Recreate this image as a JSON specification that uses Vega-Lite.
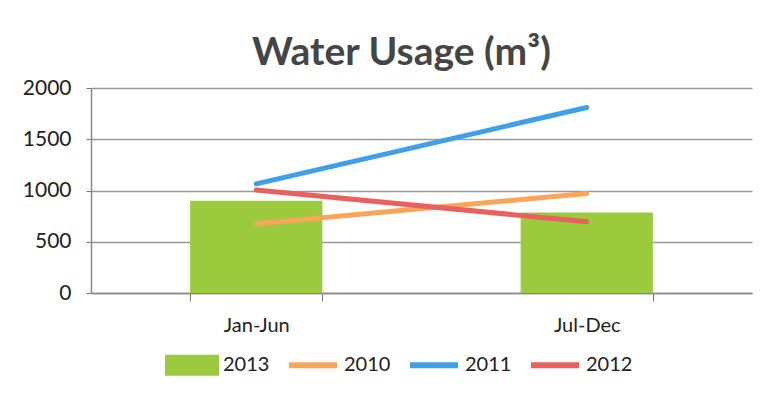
{
  "$schema": "https://vega.github.io/schema/vega-lite/v6.json",
  "autosize": "none",
  "width": 661,
  "height": 205,
  "padding": {"left": 91, "top": 88, "right": 29, "bottom": 114},
  "background": "white",
  "title": {"text": "Water Usage (m³)", "font": "Lato", "fontSize": 39, "fontWeight": "bold", "color": "#454545", "anchor": "middle", "frame": "group", "dx": -20, "offset": 4},
  "data": {"values": [
    {"period": "Jan-Jun", "series": "2013", "kind": "bar", "value": 900},
    {"period": "Jul-Dec", "series": "2013", "kind": "bar", "value": 785},
    {"period": "Jan-Jun", "series": "2010", "kind": "line", "value": 675},
    {"period": "Jul-Dec", "series": "2010", "kind": "line", "value": 970},
    {"period": "Jan-Jun", "series": "2011", "kind": "line", "value": 1065},
    {"period": "Jul-Dec", "series": "2011", "kind": "line", "value": 1810},
    {"period": "Jan-Jun", "series": "2012", "kind": "line", "value": 1005},
    {"period": "Jul-Dec", "series": "2012", "kind": "line", "value": 695}
  ]},
  "encoding": {
    "x": {"field": "period", "type": "nominal", "sort": ["Jan-Jun", "Jul-Dec"],
      "scale": {"paddingInner": 0.6, "paddingOuter": 0.3},
      "axis": {"title": null, "labelAngle": 0, "labelFont": "Lato", "labelFontSize": 20, "labelColor": "#222", "labelPadding": 14, "tickBand": "extent", "tickSize": 8, "tickColor": "#777", "domainColor": "#888", "domainWidth": 1.5, "grid": false}},
    "y": {"field": "value", "type": "quantitative",
      "scale": {"domain": [0, 2000]},
      "axis": {"title": null, "values": [0, 500, 1000, 1500, 2000], "format": "d", "labelFont": "Lato", "labelFontSize": 21, "labelColor": "#222", "labelPadding": 15, "tickSize": 5, "tickColor": "#777", "domainColor": "#888", "domainWidth": 1.5, "gridColor": "#999", "gridWidth": 1.5}},
    "color": {"field": "series", "type": "nominal",
      "scale": {"domain": ["2013", "2010", "2011", "2012"], "range": ["#9bcb3c", "#f9a65a", "#3fa0e8", "#e8605f"]},
      "legend": {"title": null, "orient": "none", "direction": "horizontal", "legendX": 74, "legendY": 250,
        "labelFont": "Lato", "labelFontSize": 20, "labelColor": "#222", "labelOffset": 4, "columnPadding": 7,
        "symbolSize": 2304, "symbolType": "M-1,0H1",
        "encode": {"symbols": {"update": {
          "shape": {"signal": "datum.value === '2013' ? 'M-1,-0.31H1V0.31H-1Z' : 'M-1,0H1M0,-0.31L0,-0.31M0,0.31L0,0.31'"},
          "fill": {"signal": "datum.value === '2013' ? '#9bcb3c' : 'transparent'"},
          "stroke": {"signal": "datum.value === '2013' ? 'transparent' : scale('color', datum.value)"},
          "strokeWidth": {"value": 6},
          "strokeCap": {"value": "butt"},
          "opacity": {"value": 1}
        }}}}}
  },
  "layer": [
    {"transform": [{"filter": "datum.kind === 'bar'"}], "mark": {"type": "bar", "opacity": 1}},
    {"transform": [{"filter": "datum.kind === 'line'"}], "mark": {"type": "line", "strokeWidth": 5, "strokeCap": "round"}}
  ],
  "config": {"view": {"stroke": null}}
}
